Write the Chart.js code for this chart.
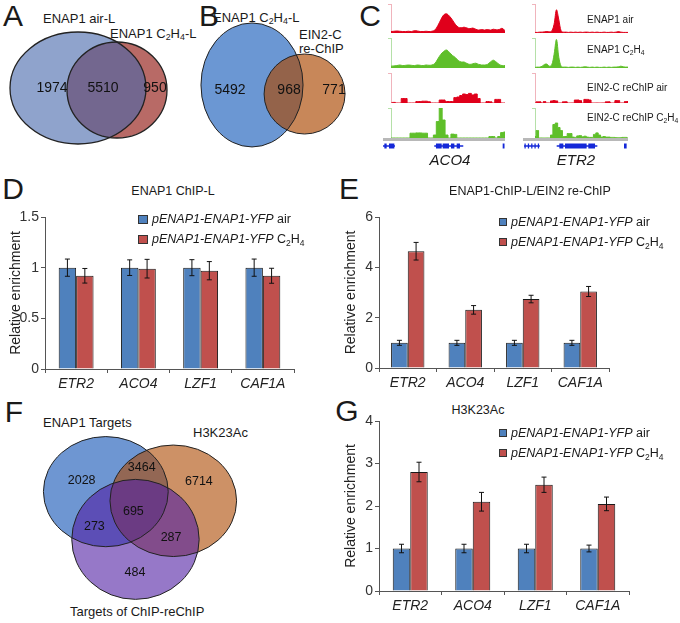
<!DOCTYPE html>
<html>
<head>
<meta charset="utf-8">
<script src="https://cdn.jsdelivr.net/npm/chart.js@4.4.1/dist/chart.umd.min.js"></script>
<style>
  body { margin: 0; width: 680px; height: 623px; position: relative; overflow: hidden; background: #fff;
         font-family: "Liberation Sans", Arial, sans-serif; color: #1a1a1a; }
  canvas { position: absolute; }
  .t { position: absolute; white-space: nowrap; line-height: 1; }
  .cc { transform: translate(-50%, -50%); }
  .lc { transform: translate(0, -50%); }
  .big { font-size: 30px; }
  sub { font-size: 0.68em; vertical-align: -0.3em; line-height: 0; }
  .lg { position: absolute; display: flex; align-items: center; height: 20px; font-size: 12.5px; white-space: nowrap; }
  .sw { display: inline-block; box-sizing: border-box; border: 1px solid #333; margin-right: 4px; }
</style>
</head>
<body>

<!-- panel letters -->
<div class="t cc big" style="left:13px;top:16px">A</div>
<div class="t cc big" style="left:209px;top:16px">B</div>
<div class="t cc big" style="left:370px;top:16px">C</div>
<div class="t cc big" style="left:13px;top:189px">D</div>
<div class="t cc big" style="left:349px;top:189px">E</div>
<div class="t cc big" style="left:14px;top:412px">F</div>
<div class="t cc big" style="left:347px;top:411px">G</div>

<!-- A / B venn labels -->
<div class="t lc" style="left:43px;top:18px;font-size:13px">ENAP1 air-L</div>
<div class="t lc" style="left:110px;top:33px;font-size:13px">ENAP1 C<sub>2</sub>H<sub>4</sub>-L</div>
<div class="t lc" style="left:213px;top:17px;font-size:13px">ENAP1 C<sub>2</sub>H<sub>4</sub>-L</div>
<div class="t lc" style="left:299px;top:34px;font-size:13px">EIN2-C</div>
<div class="t lc" style="left:299px;top:48px;font-size:13px">re-ChIP</div>

<canvas id="vennA" width="200" height="160" style="left:0;top:0"></canvas>
<canvas id="vennB" width="160" height="160" style="left:190px;top:0"></canvas>

<!-- C tracks -->
<canvas id="trA1" width="122" height="31" style="left:383px;top:2px"></canvas>
<canvas id="trA2" width="122" height="32" style="left:383px;top:36px"></canvas>
<canvas id="trA3" width="122" height="32" style="left:383px;top:71px"></canvas>
<canvas id="trA4" width="122" height="32" style="left:383px;top:106px"></canvas>
<canvas id="trB1" width="105" height="31" style="left:523px;top:2px"></canvas>
<canvas id="trB2" width="105" height="32" style="left:523px;top:36px"></canvas>
<canvas id="trB3" width="105" height="32" style="left:523px;top:71px"></canvas>
<canvas id="trB4" width="105" height="32" style="left:523px;top:106px"></canvas>
<canvas id="geneA" width="122" height="16" style="left:383px;top:137px"></canvas>
<canvas id="geneB" width="105" height="16" style="left:523px;top:137px"></canvas>

<div class="t lc" style="left:587px;top:20px;font-size:10px">ENAP1 air</div>
<div class="t lc" style="left:587px;top:50px;font-size:10px">ENAP1 C<sub>2</sub>H<sub>4</sub></div>
<div class="t lc" style="left:587px;top:88px;font-size:10px">EIN2-C reChIP air</div>
<div class="t lc" style="left:587px;top:118px;font-size:10px">EIN2-C reChIP C<sub>2</sub>H<sub>4</sub></div>
<div class="t cc" style="left:450px;top:159px;font-size:15px;font-style:italic">ACO4</div>
<div class="t cc" style="left:576px;top:159px;font-size:15px;font-style:italic">ETR2</div>

<!-- D / E / G -->
<div class="t cc" style="left:173px;top:191px;font-size:12.5px">ENAP1 ChIP-L</div>
<div class="t cc" style="left:530px;top:191px;font-size:12.5px">ENAP1-ChIP-L/EIN2 re-ChIP</div>
<div class="t cc" style="left:478px;top:410px;font-size:12.5px">H3K23Ac</div>

<canvas id="chartD" width="340" height="200" style="left:0;top:195px"></canvas>
<canvas id="chartE" width="340" height="200" style="left:340px;top:195px"></canvas>
<canvas id="chartG" width="340" height="223" style="left:340px;top:400px"></canvas>

<div class="lg" style="left:138px;top:209px"><span class="sw" style="width:10px;height:9px;background:#4f81bd"></span><span><i>pENAP1-ENAP1-YFP</i> air</span></div>
<div class="lg" style="left:138px;top:229px"><span class="sw" style="width:10px;height:9px;background:#c0504d"></span><span><i>pENAP1-ENAP1-YFP</i> C<sub>2</sub>H<sub>4</sub></span></div>
<div class="lg" style="left:499px;top:212px"><span class="sw" style="width:8px;height:8px;background:#4f81bd"></span><span><i>pENAP1-ENAP1-YFP</i> air</span></div>
<div class="lg" style="left:499px;top:232px"><span class="sw" style="width:8px;height:8px;background:#c0504d"></span><span><i>pENAP1-ENAP1-YFP</i> C<sub>2</sub>H<sub>4</sub></span></div>
<div class="lg" style="left:499px;top:423px"><span class="sw" style="width:8px;height:8px;background:#4f81bd"></span><span><i>pENAP1-ENAP1-YFP</i> air</span></div>
<div class="lg" style="left:499px;top:443px"><span class="sw" style="width:8px;height:8px;background:#c0504d"></span><span><i>pENAP1-ENAP1-YFP</i> C<sub>2</sub>H<sub>4</sub></span></div>

<!-- F venn labels -->
<div class="t lc" style="left:43px;top:422px;font-size:13px">ENAP1 Targets</div>
<div class="t lc" style="left:193px;top:432px;font-size:13px">H3K23Ac</div>
<div class="t lc" style="left:70px;top:611px;font-size:13px">Targets of ChIP-reChIP</div>
<canvas id="vennF" width="260" height="223" style="left:0;top:400px"></canvas>

<script>
// ============================================================
// DATA
// ============================================================
const genes = ["ETR2", "ACO4", "LZF1", "CAF1A"];

// D: ENAP1 ChIP-L
const chipL_air = [1.0, 1.0, 1.0, 1.0];
const chipL_air_err = [0.085, 0.077, 0.079, 0.085];
const chipL_eth = [0.92, 0.99, 0.97, 0.92];
const chipL_eth_err = [0.072, 0.092, 0.09, 0.074];
const ticksD = [0, 0.5, 1, 1.5];

// E: ENAP1-ChIP-L/EIN2 re-ChIP
const rechip_air = [1.0, 1.0, 1.0, 1.0];
const rechip_air_err = [0.1, 0.1, 0.1, 0.1];
const rechip_eth = [4.64, 2.31, 2.74, 3.04];
const rechip_eth_err = [0.35, 0.17, 0.15, 0.2];
const ticksE = [0, 2, 4, 6];

// G: H3K23Ac
const h3k_air = [1.0, 1.0, 1.0, 1.0];
const h3k_air_err = [0.1, 0.1, 0.1, 0.08];
const h3k_eth = [2.8, 2.1, 2.5, 2.05];
const h3k_eth_err = [0.23, 0.22, 0.18, 0.16];
const ticksG = [0, 1, 2, 3, 4];

// Venn counts
const vennA_counts = [1974, 5510, 950];            // air only, both, C2H4 only
const vennB_counts = [5492, 968, 771];             // ENAP1 only, both, EIN2-C only
const vennF_counts = [2028, 3464, 6714, 695, 273, 287, 484];

// Venn geometry (panel units 0-100)
const vennA_circles = [
  { x: 58.5, y: 56.25, rx: 25, ry: 30 },    // C2H4-L
  { x: 39, y: 55, rx: 34, ry: 35 }          // air-L
];
const vennA_spots = [[26, 55], [51.5, 55], [77.5, 55]];
const vennB_circles = [
  { x: 38.75, y: 53.1, rx: 31.9, ry: 38.75 },
  { x: 71.6, y: 58.75, rx: 25.3, ry: 25 }
];
const vennB_spots = [[25, 56.25], [61.9, 56.25], [90, 56.25]];
const vennF_circles = [
  { x: 40.7, y: 41.1, rx: 24.0, ry: 24.7 },
  { x: 66.65, y: 45.2, rx: 24.35, ry: 25.0 },
  { x: 52.1, y: 62.5, rx: 24.5, ry: 26.9 }
];
const vennF_spots = [[31.4, 35.9], [54.5, 30.2], [76.5, 36.6], [51.3, 50.1], [36.3, 56.8], [65.8, 61.7], [51.9, 77.4]];

// C: browser tracks (relative signal, 40 bins each)
const aco4_enap1_air = [0.05,0.06,0.07,0.06,0.05,0.05,0.06,0.05,0.08,0.07,0.05,0.05,0.06,0.05,0.06,0.1,0.25,0.45,0.62,0.66,0.58,0.45,0.3,0.2,0.18,0.2,0.17,0.15,0.17,0.13,0.1,0.12,0.1,0.12,0.1,0.13,0.11,0.12,0.16,0.08];
const aco4_enap1_eth = [0.06,0.07,0.08,0.1,0.08,0.09,0.1,0.09,0.08,0.1,0.09,0.08,0.1,0.09,0.1,0.15,0.3,0.45,0.55,0.6,0.52,0.42,0.35,0.25,0.2,0.2,0.15,0.12,0.14,0.16,0.12,0.1,0.1,0.12,0.2,0.26,0.2,0.12,0.08,0.08];
const aco4_rechip_air = [0,0.02,0,0,0.15,0.15,0,0,0,0.05,0.05,0.06,0.06,0.04,0,0,0,0.1,0.1,0.05,0.05,0.05,0.18,0.2,0.25,0.3,0.28,0.32,0.27,0.3,0.15,0,0,0.05,0.04,0,0.12,0.12,0,0];
const aco4_rechip_eth = [0,0,0,0,0,0,0,0.16,0.16,0.17,0.17,0.16,0.16,0,0,0.1,0.55,1.0,0.6,0.1,0,0.13,0.12,0,0,0,0,0,0,0,0,0,0,0,0.05,0.05,0,0.05,0.18,0.2];
const etr2_enap1_air = [0.02,0.02,0.03,0.03,0.04,0.05,0.04,0.06,0.3,0.8,0.45,0.06,0.03,0.03,0.02,0.03,0.02,0.03,0.02,0.03,0.02,0.03,0.03,0.02,0.03,0.02,0.03,0.02,0.02,0.03,0.02,0.02,0.03,0.02,0.03,0.05,0.03,0.02,0.02,0.02];
const etr2_enap1_eth = [0.02,0.03,0.03,0.06,0.12,0.13,0.06,0.1,0.45,0.95,0.35,0.05,0.03,0.03,0.02,0.03,0.03,0.02,0.03,0.02,0.03,0.04,0.03,0.02,0.03,0.02,0.03,0.02,0.02,0.03,0.02,0.03,0.02,0.03,0.03,0.04,0.06,0.04,0.03,0.03];
const etr2_rechip_air = [0,0.04,0.04,0,0.05,0,0,0.07,0.08,0.07,0,0,0.04,0.04,0,0,0,0.1,0.1,0.08,0,0.12,0.12,0.1,0,0,0,0,0,0,0.04,0.04,0,0,0.08,0.08,0,0,0.05,0.05];
const etr2_rechip_eth = [0.05,0.25,0,0,0,0,0,0.1,0.45,0.5,0.35,0.25,0.05,0.05,0.15,0.15,0.03,0.02,0.07,0.08,0.04,0.06,0.03,0.02,0.02,0.12,0.17,0.1,0.03,0.05,0.03,0.03,0.02,0.02,0.01,0.01,0.01,0.02,0.02,0];
const trackTicks = [0, 1];

// gene models (track units 0-100)
const aco4_introns = [[0, 9.8], [42, 65.8]];
const aco4_exons = [[1.1, 3], [4.9, 9.3], [43.4, 48.1], [48.9, 54.1], [55.7, 58.5], [60.4, 63.1], [98.1, 99.6]];
const etr2_introns = [[1, 16], [32.1, 70.8]];
const etr2_exons = [[1.4, 2.6], [4.6, 5.8], [7.8, 9], [10.9, 12.1], [14.1, 15.3], [34.6, 38.4], [40, 60.6], [62.2, 68.6], [96.2, 98.7]];

// ============================================================
// STYLE
// ============================================================
const FONT = '"Liberation Sans", Arial, sans-serif';
const BLUE = "#4f81bd";
const RED = "#c0504d";
const AXIS = "#555";
const TRACK_RED = "#e0001b";
const TRACK_GREEN = "#5fbf2a";
const GENE = "#1428d8";

Chart.defaults.font.family = FONT;
Chart.defaults.color = "#222";

const base = {
  responsive: false,
  animation: false,
  devicePixelRatio: 1,
  events: [],
  plugins: { legend: { display: false }, tooltip: { enabled: false } }
};

// ============================================================
// ERROR BARS
// ============================================================
const errorBars = {
  id: "errorBars",
  afterDatasetsDraw(chart) {
    const ctx = chart.ctx;
    const y = chart.scales.y;
    chart.data.datasets.forEach((ds, i) => {
      chart.getDatasetMeta(i).data.forEach((bar, j) => {
        const top = y.getPixelForValue(ds.data[j] + ds.errors[j]);
        const bot = y.getPixelForValue(ds.data[j] - ds.errors[j]);
        ctx.save();
        ctx.strokeStyle = "#111";
        ctx.lineWidth = 1;
        ctx.beginPath();
        ctx.moveTo(bar.x, top); ctx.lineTo(bar.x, bot);
        ctx.moveTo(bar.x - 2.5, top); ctx.lineTo(bar.x + 2.5, top);
        ctx.moveTo(bar.x - 2.5, bot); ctx.lineTo(bar.x + 2.5, bot);
        ctx.stroke();
        ctx.restore();
      });
    });
  }
};

function barChart(id, air, airErr, eth, ethErr, yMax, yTicks, box) {
  return new Chart(document.getElementById(id), {
    type: "bar",
    data: {
      labels: genes,
      datasets: [
        { data: air, errors: airErr, backgroundColor: BLUE, borderColor: "#1a1a1a", borderWidth: 1 },
        { data: eth, errors: ethErr, backgroundColor: RED, borderColor: "#1a1a1a", borderWidth: 1 }
      ]
    },
    options: {
      ...base,
      layout: { padding: { top: box.top, right: box.right, bottom: 0, left: 0 } },
      datasets: { bar: { categoryPercentage: box.cat, barPercentage: 1 } },
      scales: {
        x: {
          grid: { drawOnChartArea: false, tickLength: 4, color: AXIS, offset: true },
          border: { color: AXIS },
          ticks: { color: "#222", font: { size: 14, style: "italic" }, padding: 3, autoSkip: false, maxRotation: 0 },
          afterFit: s => { s.height = box.xh; }
        },
        y: {
          min: 0,
          max: yMax,
          afterBuildTicks: s => { s.ticks = yTicks.map(v => ({ value: v })); },
          grid: { drawOnChartArea: false, tickLength: 4, color: AXIS },
          border: { color: AXIS },
          ticks: { color: "#333", font: { size: 14 }, padding: 2, callback: v => String(v) },
          title: { display: true, text: "Relative enrichment", color: "#222", font: { size: 14 }, padding: { top: box.tp, bottom: 0 } },
          afterFit: s => { s.width = box.yw; }
        }
      }
    },
    plugins: [errorBars]
  });
}

// ============================================================
// VENN
// ============================================================
const vennDraw = {
  id: "vennDraw",
  afterDatasetsDraw(chart) {
    const { ctx, scales: { x, y } } = chart;
    const [circles, spots] = chart.data.datasets;
    const shapes = circles.data.map(c => {
      const cx = x.getPixelForValue(c.x), cy = y.getPixelForValue(c.y);
      return {
        cx, cy,
        rx: Math.abs(x.getPixelForValue(c.x + c.rx) - cx),
        ry: Math.abs(y.getPixelForValue(c.y + c.ry) - cy)
      };
    });
    ctx.save();
    shapes.forEach((s, i) => {
      ctx.beginPath();
      ctx.ellipse(s.cx, s.cy, s.rx, s.ry, 0, 0, Math.PI * 2);
      ctx.fillStyle = circles.fills[i];
      ctx.fill();
    });
    ctx.strokeStyle = "#222";
    ctx.lineWidth = circles.lineW;
    shapes.forEach(s => {
      ctx.beginPath();
      ctx.ellipse(s.cx, s.cy, s.rx, s.ry, 0, 0, Math.PI * 2);
      ctx.stroke();
    });
    ctx.fillStyle = "#111";
    ctx.font = spots.fontSize + "px " + FONT;
    ctx.textAlign = "center";
    ctx.textBaseline = "middle";
    spots.data.forEach((p, i) => {
      ctx.fillText(String(spots.counts[i]), x.getPixelForValue(p.x), y.getPixelForValue(p.y));
    });
    ctx.restore();
  }
};

function vennChart(id, circles, fills, lineW, spots, counts, fontSize) {
  return new Chart(document.getElementById(id), {
    type: "scatter",
    data: {
      datasets: [
        { data: circles, fills, lineW, pointRadius: 0 },
        { data: spots.map(([x, y]) => ({ x, y })), counts, fontSize, pointRadius: 0 }
      ]
    },
    options: {
      ...base,
      layout: { padding: 0 },
      scales: {
        x: { type: "linear", min: 0, max: 100, display: false },
        y: { type: "linear", min: 0, max: 100, reverse: true, display: false }
      }
    },
    plugins: [vennDraw]
  });
}

// ============================================================
// TRACKS
// ============================================================
function trackChart(id, values, color, axisColor, stepped, axisW) {
  return new Chart(document.getElementById(id), {
    type: "line",
    data: {
      labels: values.map((_, i) => i),
      datasets: [{
        data: values, borderColor: color, backgroundColor: color, borderWidth: 1,
        fill: "origin", pointRadius: 0,
        tension: stepped ? 0 : 0.35, stepped: stepped ? "middle" : false
      }]
    },
    options: {
      ...base,
      layout: { padding: { top: 2, right: 0, bottom: 0, left: 0 } },
      scales: {
        x: { display: false },
        y: {
          min: 0, max: 1,
          afterBuildTicks: s => { s.ticks = trackTicks.map(v => ({ value: v })); },
          ticks: { display: false },
          grid: { drawOnChartArea: false, tickLength: 3, color: axisColor },
          border: { color: axisColor },
          afterFit: s => { s.width = axisW; }
        }
      }
    }
  });
}

function geneChart(id, introns, exons) {
  const seg = list => list.flatMap(([a, b]) => [{ x: a, y: 0 }, { x: b, y: 0 }, { x: b, y: null }]);
  return new Chart(document.getElementById(id), {
    type: "scatter",
    data: {
      datasets: [
        { data: seg(introns), showLine: true, spanGaps: false, borderColor: GENE, borderWidth: 1.5, pointRadius: 0 },
        { data: seg(exons), showLine: true, spanGaps: false, borderColor: GENE, borderWidth: 5, pointRadius: 0 }
      ]
    },
    options: {
      ...base,
      layout: { padding: { top: 2, right: 0, bottom: 0, left: 0 } },
      scales: {
        x: {
          type: "linear", min: 0, max: 100, position: "top",
          ticks: { display: false },
          grid: { drawOnChartArea: false, drawTicks: false },
          border: { display: true, color: "#b8b8b8", width: 3 },
          afterFit: s => { s.height = 0; }
        },
        y: { type: "linear", min: -1, max: 1, display: false }
      }
    }
  });
}

// ============================================================
// BUILD
// ============================================================
vennChart("vennA", vennA_circles, ["#b86a66", "rgba(68,102,170,0.6)"], 1.3, vennA_spots, vennA_counts, 14);
vennChart("vennB", vennB_circles, ["#6b97d3", "rgba(171,71,0,0.65)"], 1, vennB_spots, vennB_counts, 14);
vennChart("vennF", vennF_circles, ["#6e96d2", "rgba(172,72,0,0.6)", "rgba(80,30,163,0.6)"], 1, vennF_spots, vennF_counts, 12.5);

trackChart("trA1", aco4_enap1_air, TRACK_RED, "#f0b4bc", false, 8);
trackChart("trA2", aco4_enap1_eth, TRACK_GREEN, "#b5e0a8", false, 8);
trackChart("trA3", aco4_rechip_air, TRACK_RED, "#f0b4bc", true, 8);
trackChart("trA4", aco4_rechip_eth, TRACK_GREEN, "#b5e0a8", true, 8);
trackChart("trB1", etr2_enap1_air, TRACK_RED, "#f0b4bc", false, 12);
trackChart("trB2", etr2_enap1_eth, TRACK_GREEN, "#b5e0a8", false, 12);
trackChart("trB3", etr2_rechip_air, TRACK_RED, "#f0b4bc", true, 12);
trackChart("trB4", etr2_rechip_eth, TRACK_GREEN, "#b5e0a8", true, 12);
geneChart("geneA", aco4_introns, aco4_exons);
geneChart("geneB", etr2_introns, etr2_exons);

barChart("chartD", chipL_air, chipL_air_err, chipL_eth, chipL_eth_err, 1.5, ticksD,
  { top: 22, right: 46, xh: 26, yw: 45, cat: 0.56, tp: 8 });
barChart("chartE", rechip_air, rechip_air_err, rechip_eth, rechip_eth_err, 6, ticksE,
  { top: 22, right: 71, xh: 27, yw: 39, cat: 0.58, tp: 3 });
barChart("chartG", h3k_air, h3k_air_err, h3k_eth, h3k_eth_err, 4, ticksG,
  { top: 21, right: 51, xh: 32, yw: 39, cat: 0.56, tp: 3 });
</script>
</body>
</html>
